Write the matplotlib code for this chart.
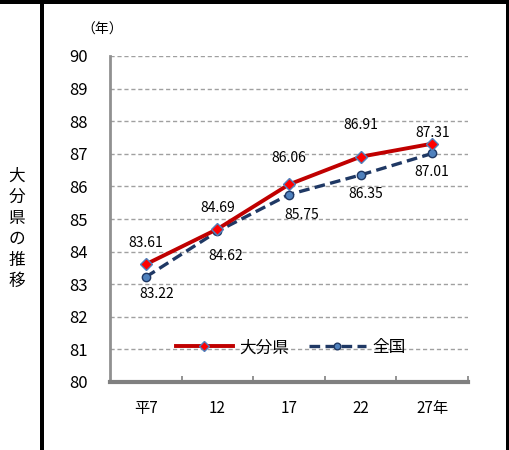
import matplotlib
matplotlib.use("Agg")
import matplotlib.pyplot as plt
from matplotlib.patches import Rectangle

plt.rcParams['font.family'] = ['Noto Sans CJK JP', 'DejaVu Sans']

categories = ["平7", "12", "17", "22", "27年"]
oita = [83.61, 84.69, 86.06, 86.91, 87.31]
national = [83.22, 84.62, 85.75, 86.35, 87.01]
yticks = [80, 81, 82, 83, 84, 85, 86, 87, 88, 89, 90]

W, H = 510, 450
fig = plt.figure(figsize=(W / 100, H / 100), dpi=100)
ax = fig.add_axes([110 / W, 1 - 382 / H, 358 / W, 326 / H])

x = list(range(len(categories)))
ax.plot(x, oita, color='#C00000', lw=2.8, marker='D', ms=6.5,
        mfc='#FF0000', mec='#4F81BD', mew=1.0, zorder=4, label='大分県')
ax.plot(x, national, color='#1F3864', lw=2.4, ls=(0, (3.2, 1.6)), marker='o', ms=6,
        mfc='#4F81BD', mec='#1F3864', mew=1.0, zorder=3, label='全国')

ax.set_xlim(-0.5, len(categories) - 0.5)
ax.set_ylim(80, 90)
ax.set_yticks(yticks)
ax.set_yticklabels([str(v) for v in yticks], fontsize=12)
ax.set_xticks([i + 0.5 for i in range(len(categories))])
ax.set_xticklabels([])
ax.set_xticks(x, minor=True)
ax.set_xticklabels(categories, minor=True, fontsize=11)
ax.tick_params(axis='x', which='major', direction='in', length=4, color='#808080', width=1.2)
ax.tick_params(axis='x', which='minor', length=0, pad=13)
ax.tick_params(axis='y', length=0, pad=16)

ax.grid(axis='y', color='#A0A0A0', ls=(0, (3, 2)), lw=1.0)
ax.set_axisbelow(True)
for s in ['top', 'right']:
    ax.spines[s].set_visible(False)
ax.spines['left'].set_color('#909090')
ax.spines['left'].set_linewidth(2)
ax.spines['bottom'].set_color('#808080')
ax.spines['bottom'].set_linewidth(3)

# data labels (offsets in points)
oita_off = [(0, 15), (0, 15), (0, 19), (0, 23), (0, 8)]
nat_off = [(8, -12), (6, -18), (9, -15), (4, -14), (0, -13)]
for i, v in enumerate(oita):
    ax.annotate(f"{v:.2f}", (i, v), xytext=oita_off[i], textcoords='offset points',
                ha='center', va='center', fontsize=10)
for i, v in enumerate(national):
    ax.annotate(f"{v:.2f}", (i, v), xytext=nat_off[i], textcoords='offset points',
                ha='center', va='center', fontsize=10)

leg = ax.legend(loc='center', bbox_to_anchor=(0.505, 0.105), ncol=2, frameon=False,
                fontsize=12, handlelength=3.4, columnspacing=1.2, handletextpad=0.4,
                markerscale=0.8)

fig.text(123 / W, 1 - 30 / H, '（年）', fontsize=10, ha='right', va='center')
fig.text(17 / W, 1 - 229 / H, '大\n分\n県\nの\n推\n移', fontsize=12, ha='center', va='center',
         linespacing=1.3)

# borders
fig.add_artist(Rectangle((0, 1 - 4 / H), 1, 4 / H, transform=fig.transFigure, color='black', lw=0))
fig.add_artist(Rectangle((40 / W, 0), 4 / W, 1, transform=fig.transFigure, color='black', lw=0))
fig.add_artist(Rectangle((506 / W, 0), 4 / W, 1, transform=fig.transFigure, color='black', lw=0))

fig.savefig('out.png', dpi=100)
